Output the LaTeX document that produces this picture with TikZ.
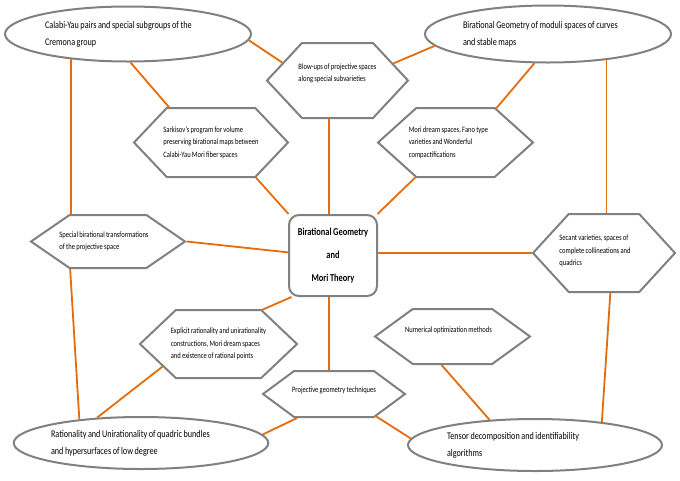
\documentclass[tikz,border=0pt]{standalone}
\usepackage{fontspec}
\usepackage{tikz}
\usetikzlibrary{shapes.geometric,shapes.symbols}
\newfontfamily\mapfont[FakeStretch=0.8, WordSpace=0.85]{Carlito}
\definecolor{shapegray}{RGB}{128,128,128}
\definecolor{linkorange}{RGB}{228,108,10}

\begin{document}
\begin{tikzpicture}[x=1pt, y=-1pt,
    topic/.style={ellipse, draw=shapegray, line width=2pt, fill=white, inner sep=0pt,
      align=flush left, font=\mapfont\fontsize{10.2}{17}\selectfont},
    hexa/.style={signal, signal to=east and west, draw=shapegray, line width=2pt,
      fill=white, inner sep=0pt},
    hextext/.style={align=left, font=\mapfont\fontsize{8.2}{12.5}\selectfont},
    corebox/.style={rectangle, rounded corners=10pt, draw=shapegray, line width=2pt,
      fill=white, align=center, minimum width=88pt, minimum height=81pt,
      font=\mapfont\bfseries\fontsize{10.5}{23}\selectfont},
    link/.style={draw=linkorange, line width=1.8pt}]
  \useasboundingbox (0,0) rectangle (680,480);

  % outer topics
  \node[topic, minimum width=246pt, minimum height=55pt, text width=166pt] (tl) at (128,34)
    {Calabi-Yau pairs and special subgroups of the\\Cremona group};
  \node[topic, minimum width=246pt, minimum height=57pt, text width=170pt] (tr) at (548,34)
    {Birational Geometry of moduli spaces of curves\\and stable maps};
  \node[topic, minimum width=254pt, minimum height=52pt, text width=180pt] (bl) at (141,443)
    {Rationality and Unirationality of quadric bundles\\and hypersurfaces of low degree};
  \node[topic, minimum width=254pt, minimum height=52pt, text width=176pt] (br) at (535,445)
    {Tensor decomposition and identifiability\\algorithms};

  % hexagons
  \node[hexa, minimum width=141pt, minimum height=75pt, signal pointer angle=94,
    label={[hextext, yshift=7pt]center:{Blow-ups of projective spaces\\along special subvarieties}}]
    (blowups) at (337.5,80.5) {};
  \node[hexa, minimum width=154pt, minimum height=69pt, signal pointer angle=93,
    label={[hextext]center:{Sarkisov’s program for volume\\preserving birational maps between\\Calabi-Yau Mori fiber spaces}}]
    (sark) at (211,142.5) {};
  \node[hexa, minimum width=155pt, minimum height=69pt, signal pointer angle=84,
    label={[hextext, xshift=-7pt]center:{Mori dream spaces, Fano type\\varieties and Wonderful\\compactifications}}]
    (mori) at (455.5,142.5) {};
  \node[hexa, minimum width=154pt, minimum height=53pt, signal pointer angle=69,
    label={[hextext, xshift=-4pt]center:{Special birational transformations\\of the projective space}}]
    (special) at (108,241.5) {};
  \node[hexa, minimum width=142pt, minimum height=78pt, signal pointer angle=95,
    label={[hextext, xshift=-9pt, yshift=2pt]center:{Secant varieties, spaces of\\complete collineations and\\quadrics}}]
    (secant) at (604,253) {};
  \node[hexa, minimum width=157pt, minimum height=68pt, signal pointer angle=87,
    label={[hextext]center:{Explicit rationality and unirationality\\constructions, Mori dream spaces\\and existence of rational points}}]
    (explicit) at (218.5,344) {};
  \node[hexa, minimum width=155pt, minimum height=55pt, signal pointer angle=72,
    label={[hextext, xshift=-4pt, yshift=6pt]center:{Numerical optimization methods}}]
    (numerical) at (452.5,336.5) {};
  \node[hexa, minimum width=142pt, minimum height=46pt, signal pointer angle=73,
    label={[hextext, yshift=4pt]center:{Projective geometry techniques}}]
    (projective) at (334,394) {};

  \node[corebox] (core) at (333,255.5) {Birational Geometry\\and\\Mori Theory};

  % connectors
  \draw[link] (tl.-3) -- (blowups.162);
  \draw[link] (tl.-85) -- (sark.140);
  \draw[link] (tl.204) -- (tl.204 |- special.north);
  \draw[link] (special.216) -- (bl.159);
  \draw[link] (blowups.17) -- (tr.186);
  \draw[link] (tr.245) -- (mori.40);
  \draw[link] (tr.-24) -- (tr.-24 |- secant.north);
  \draw[link] (secant.-81) -- (br.19);
  \draw[link] (sark.-38) -- (core.137);
  \draw[link] (core.95) -- (core.95 |- blowups.south);
  \draw[link] (mori.221) -- (core.43);
  \draw[link] (special.east) -- (core.176);
  \draw[link] (secant.west) -- (secant.west -| core.east);
  \draw[link] (explicit.38) -- (core.225);
  \draw[link] (core.265) -- (core.265 |- projective.north);
  \draw[link] (explicit.202) -- (bl.150);
  \draw[link] (projective.213) -- (bl.4);
  \draw[link] (projective.-28) -- (br.177);
  \draw[link] (numerical.249) -- (br.151);
\end{tikzpicture}
\end{document}
